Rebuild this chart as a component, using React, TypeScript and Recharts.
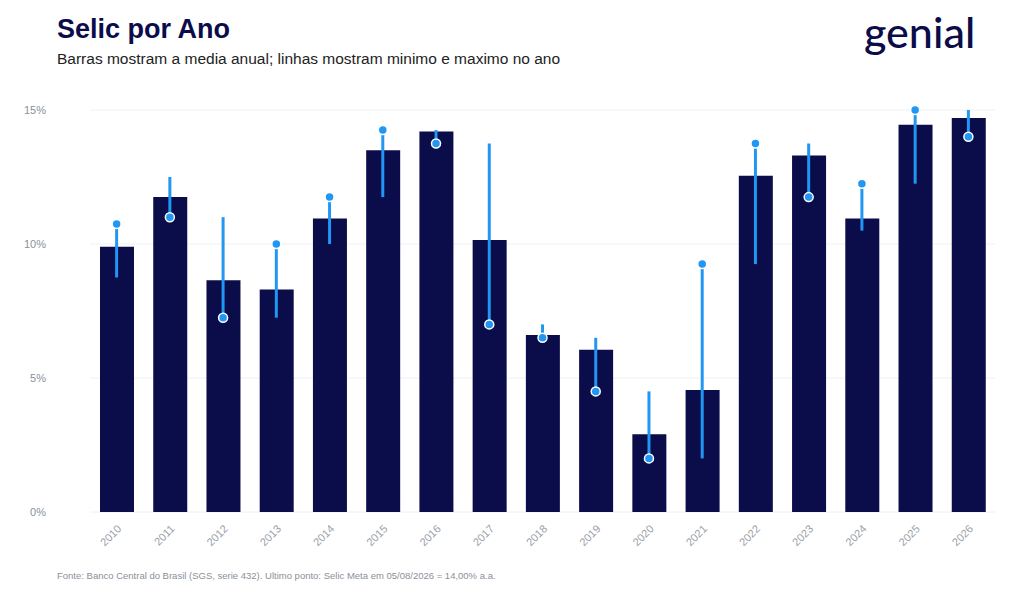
import React from 'react';
import { ComposedChart, Bar, Scatter, ErrorBar, XAxis, YAxis, CartesianGrid } from 'recharts';

const YEARS = ['2010','2011','2012','2013','2014','2015','2016','2017','2018','2019','2020','2021','2022','2023','2024','2025','2026'];
const AVG = [9.9, 11.75, 8.65, 8.3, 10.95, 13.5, 14.2, 10.15, 6.6, 6.05, 2.9, 4.55, 12.55, 13.3, 10.95, 14.45, 14.7];
const MIN = [8.75, 10.9, 7.25, 7.25, 10.0, 11.75, 13.75, 7.0, 6.5, 4.5, 2.0, 2.0, 9.25, 11.75, 10.5, 12.25, 14.0];
const MAX = [10.75, 12.5, 11.0, 10.0, 11.75, 14.25, 14.25, 13.75, 7.0, 6.5, 4.5, 9.25, 13.75, 13.75, 12.25, 15.0, 15.0];
const LAST = [10.75, 11.0, 7.25, 10.0, 11.75, 14.25, 13.75, 7.0, 6.5, 4.5, 2.0, 9.25, 13.75, 11.75, 12.25, 15.0, 14.0];
const Y_TICKS = [0, 5, 10, 15];

const data = YEARS.map((year, i) => ({
  year,
  avg: AVG[i],
  last: LAST[i],
  err: [LAST[i] - MIN[i], MAX[i] - LAST[i]],
}));

const NAVY = '#0B0C4A';
const BLUE = '#2196F3';
const FONT = 'Liberation Sans, Arial, sans-serif';

const Dot = (props: any) => (
  <circle cx={props.cx} cy={props.cy} r={4.5} fill={BLUE} stroke="#fff" strokeWidth={1.5} />
);

export default function App() {
  return (
    <div style={{ position: 'absolute', left: 0, top: 0, width: 1024, height: 597, background: '#fff', fontFamily: FONT }}>
      <div style={{ position: 'absolute', left: 57, top: 14, fontSize: 27, fontWeight: 700, color: NAVY }}>Selic por Ano</div>
      <div style={{ position: 'absolute', left: 57, top: 50, fontSize: 15.5, color: '#222' }}>
        Barras mostram a media anual; linhas mostram minimo e maximo no ano
      </div>
      <div style={{ position: 'absolute', left: 864, top: 6, fontSize: 43, fontWeight: 500, color: NAVY, fontFamily: 'Lato, sans-serif' }}>genial</div>
      <ComposedChart width={1024} height={597} data={data} margin={{ top: 110, right: 29, bottom: 35, left: 0 }}>
        <CartesianGrid vertical={false} stroke="#eef0f3" />
        <XAxis
          dataKey="year"
          axisLine={false}
          tickLine={false}
          height={50}
          interval={0}
          tick={{ fill: '#9aa0aa', fontSize: 11, fontFamily: FONT, angle: -45, textAnchor: 'end', dy: 4 }}
        />
        <YAxis
          domain={[0, 15]}
          ticks={Y_TICKS}
          width={90}
          axisLine={false}
          tickLine={false}
          tickMargin={38}
          tickFormatter={(v) => `${v}%`}
          tick={{ fill: '#8a909a', fontSize: 11, fontFamily: FONT }}
        />
        <Bar dataKey="avg" fill={NAVY} barSize={34} isAnimationActive={false} />
        <Scatter dataKey="last" shape={<Dot />} isAnimationActive={false}>
          <ErrorBar dataKey="err" direction="y" width={0} stroke={BLUE} strokeWidth={3} />
        </Scatter>
      </ComposedChart>
      <div style={{ position: 'absolute', left: 57, top: 570, fontSize: 9.5, color: '#8a909a' }}>
        Fonte: Banco Central do Brasil (SGS, serie 432). Ultimo ponto: Selic Meta em 05/08/2026 = 14,00% a.a.
      </div>
    </div>
  );
}
